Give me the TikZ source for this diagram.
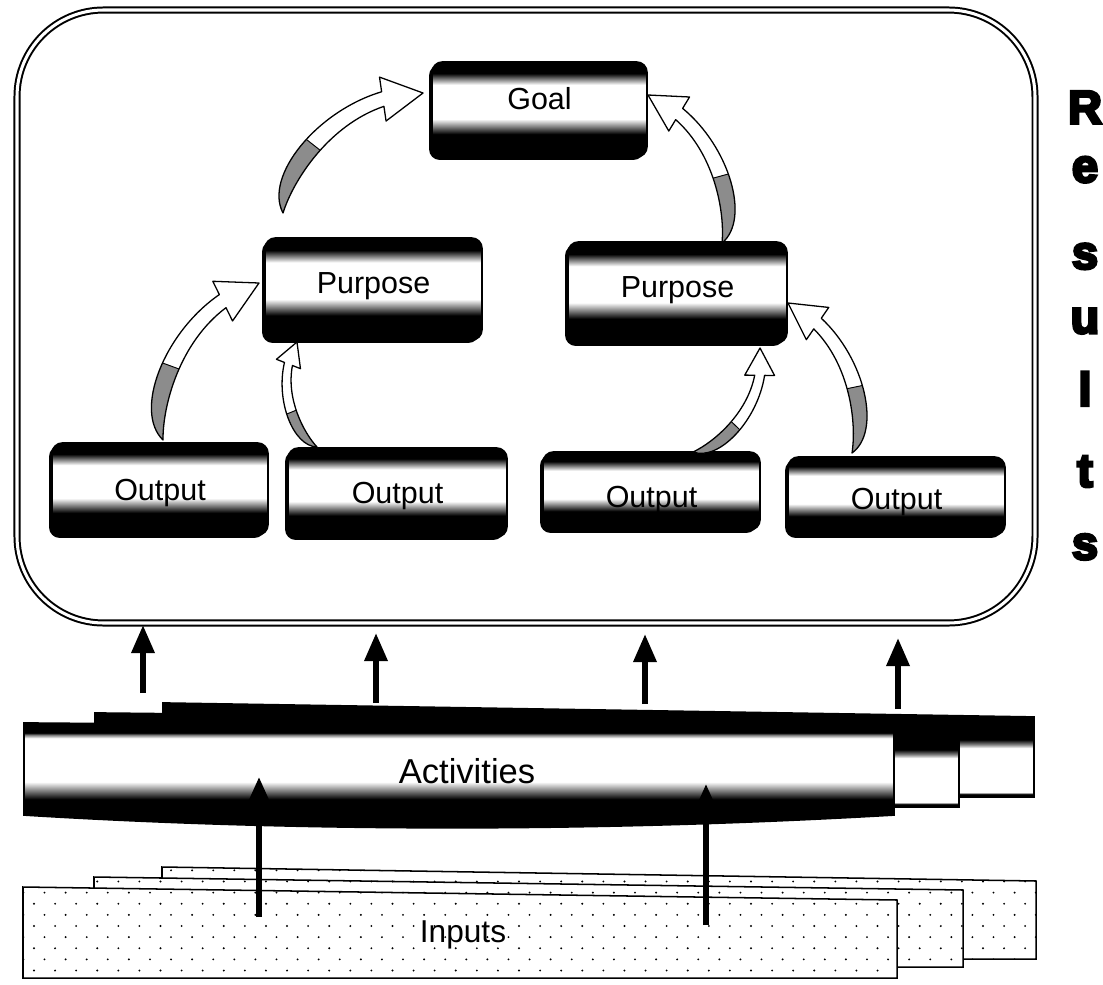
\documentclass[tikz,border=0pt]{standalone}
\usepackage{fontspec}
\setmainfont{Liberation Sans}
\newfontfamily\heavyfont[FakeBold=6]{Liberation Sans Bold}
\usetikzlibrary{arrows.meta,calc,fit,patterns,shadows}

% vertical band shadings (0bp = bottom, path covers 25bp..75bp)
\pgfdeclareverticalshading{boxband}{100bp}{color(0bp)=(black); color(37bp)=(black); color(41bp)=(black!50); color(45bp)=(white); color(63bp)=(white); color(66bp)=(black!50); color(69bp)=(black); color(100bp)=(black)}
\pgfdeclareverticalshading{frontband}{100bp}{color(0bp)=(black); color(40bp)=(black); color(44bp)=(black!50); color(48bp)=(white); color(68bp)=(white); color(69.5bp)=(black!50); color(70.5bp)=(black); color(100bp)=(black)}
\pgfdeclareverticalshading{backband}{100bp}{color(0bp)=(black); color(26.5bp)=(black); color(27.5bp)=(white); color(51bp)=(white); color(53bp)=(black!50); color(55.5bp)=(black); color(100bp)=(black)}

% sparse staggered dots for the input sheets
\pgfdeclarepatternformonly{sparsedots}{\pgfqpoint{-1pt}{-1pt}}{\pgfqpoint{19pt}{20pt}}{\pgfqpoint{18pt}{19pt}}{%
  \pgfpathcircle{\pgfqpoint{2pt}{2pt}}{0.9pt}%
  \pgfpathcircle{\pgfqpoint{11pt}{11.5pt}}{0.9pt}%
  \pgfusepath{fill}}

\tikzset{
  frame/.style={draw, line width=1.7pt, double=white, double distance=2.6pt, rounded corners=2.6cm, inner sep=0pt},
  tbox/.style={draw=black, line width=1.5pt, rounded corners=9pt, shade, shading=boxband, inner sep=0pt,
    drop shadow={shadow xshift=-2.5pt, shadow yshift=-2.5pt, fill=black, opacity=1}},
  boxtext/.style={anchor=base, inner sep=0pt, font=\fontsize{26}{30}\selectfont},
  bentline/.style={draw=black, line width=1.1pt, line join=round},
  bentgray/.style={fill=black!45, draw=black, line width=0.8pt},
  layerfront/.style={draw=black, line width=1.5pt, shade, shading=frontband},
  layerback/.style={draw=black, line width=1.5pt, shade, shading=backband},
  inputlayer/.style={draw=black, line width=1.3pt, preaction={fill=white}, pattern=sparsedots},
  uparrow/.style={line width=5pt, -{Triangle[width=19pt,length=24pt]}},
  inarrow/.style={line width=4.5pt, -{Triangle[width=19pt,length=23pt]}},
}

% curved feather-like arrow from #1 (tail) to #2 (tip); #3 = side of the bulge (90 or -90); #4 = name prefix
\newcommand\bentarrow[4]{%
  \coordinate (#4r) at ($(#1)!1!#3:(#2)$);
  \foreach \nm/\ArrU/\ArrV in {c1/0.05/0.22, c2/0.50/0.30, ob/0.834/0.151, obb/0.877/0.219,
      ib/0.749/0.015, ibb/0.792/0.083, c3/0.50/0.20, c4/0.16/0.10,
      g1/0.40/0, g2/0.30/0.5, g3/0/0.5}
    {\coordinate (#4\nm) at ($(#1)!\ArrU!(#2)+\ArrV*(#4r)-\ArrV*(#1)$);}
  \fill[white] (#1) .. controls (#4c1) and (#4c2) .. (#4ob) -- (#4obb) -- (#2) -- (#4ib) -- (#4ibb) .. controls (#4c3) and (#4c4) .. (#1) -- cycle;
  \begin{scope}
    \clip (#1) .. controls (#4c1) and (#4c2) .. (#4ob) -- (#4obb) -- (#2) -- (#4ib) -- (#4ibb) .. controls (#4c3) and (#4c4) .. (#1) -- cycle;
    \path[bentgray] (#1) -- (#4g1) -- (#4g2) -- (#4g3) -- cycle;
  \end{scope}
  \path[bentline] (#1) .. controls (#4c1) and (#4c2) .. (#4ob) -- (#4obb) -- (#2) -- (#4ib) -- (#4ibb) .. controls (#4c3) and (#4c4) .. (#1) -- cycle;
}

\begin{document}
\begin{tikzpicture}[x=0.03cm, y=-0.03cm]
\useasboundingbox (0,0) rectangle (1103,984);

% frame around the results
\node[frame, fit={(17,10) (1035,623)}] (results) {};

% result hierarchy: boxes
\node[tbox, fit={(432,62) (647,157)}] (goal) {};
\node[tbox, fit={(265,238) (482,340)}] (purposeL) {};
\node[tbox, fit={(568,242) (787,343)}] (purposeR) {};
\node[tbox, fit={(52,443) (268,535)}] (out1) {};
\node[tbox, fit={(288,448) (507,537)}] (out2) {};
\node[tbox, fit={(543,452) (760,530)}] (out3) {};
\node[tbox, fit={(788,457) (1005,535)}] (out4) {};

% result hierarchy: labels on their baselines
\node[boxtext] (goalT) at (goal.center |- 0,110) {Goal};
\node[boxtext] (purposeLT) at (purposeL.center |- 0,293) {Purpose};
\node[boxtext] (purposeRT) at (purposeR.center |- 0,297) {Purpose};
\node[boxtext] (out1T) at (out1.center |- 0,500) {Output};
\node[boxtext] (out2T) at (out2.center |- 0,503) {Output};
\node[boxtext] (out3T) at (out3.center |- 0,507) {Output};
\node[boxtext] (out4T) at (out4.center |- 0,509) {Output};

% ends of the curved arrows
\coordinate (tA) at (283,213); \coordinate (hA) at (423,93);
\coordinate (tB) at (722,243); \coordinate (hB) at (648,95);
\coordinate (tC) at (163,440); \coordinate (hC) at (259,283);
\coordinate (tD) at (317,447); \coordinate (hD) at (297,342);
\coordinate (tE) at (693,452); \coordinate (hE) at (760,348);
\coordinate (tF) at (852,453); \coordinate (hF) at (788,303);

\bentarrow{tA}{hA}{90}{A}
\bentarrow{tB}{hB}{-90}{B}
\bentarrow{tC}{hC}{90}{C}
\bentarrow{tD}{hD}{90}{D}
\bentarrow{tE}{hE}{-90}{E}
\bentarrow{tF}{hF}{-90}{F}

% vertical label
\node[font=\heavyfont\fontsize{40}{62}\selectfont, align=center, inner sep=0pt, anchor=north] (resultsword) at (1085,91)
  {R\\[-12pt]e\\[12pt]s\\[-7pt]u\\l\\[7pt]t\\s};

% stacked activity sheets
\path[layerback] (163,703) -- (1034,717) -- (1034,797) -- (163,797) -- cycle;
\path[layerback] (95,713) -- (959,722) -- (959,807) -- (95,807) -- cycle;
\path[layerfront] (24,723) -- (894,730) -- (894,815) .. controls (600,832) and (300,832) .. (24,815) -- cycle;
\node[font=\fontsize{29.5}{34}\selectfont, anchor=base, inner sep=0pt] (activities) at (467,783) {Activities};

% stacked input sheets
\path[inputlayer] (162,867) -- (1036,881) -- (1036,959) -- (162,959) -- cycle;
\path[inputlayer] (94,877) -- (963,890) -- (963,967) -- (94,967) -- cycle;
\path[inputlayer] (23,887) -- (897,900) -- (897,978) -- (23,978) -- cycle;
\node[font=\fontsize{27}{31}\selectfont, anchor=base, inner sep=0pt] (inputs) at (463,942) {Inputs};

% activities lead to results
\coordinate (u1s) at (143,693); \coordinate (u1e) at (143,625);
\coordinate (u2s) at (376,703); \coordinate (u2e) at (376,633);
\coordinate (u3s) at (645,704); \coordinate (u3e) at (645,634);
\coordinate (u4s) at (898,709); \coordinate (u4e) at (898,638);
\draw[uparrow] (u1s) -- (u1e);
\draw[uparrow] (u2s) -- (u2e);
\draw[uparrow] (u3s) -- (u3e);
\draw[uparrow] (u4s) -- (u4e);

% inputs feed activities
\coordinate (i1s) at (259,917); \coordinate (i1e) at (259,777);
\coordinate (i2s) at (706,925); \coordinate (i2e) at (706,784);
\draw[inarrow] (i1s) -- (i1e);
\draw[inarrow] (i2s) -- (i2e);
\end{tikzpicture}
\end{document}
